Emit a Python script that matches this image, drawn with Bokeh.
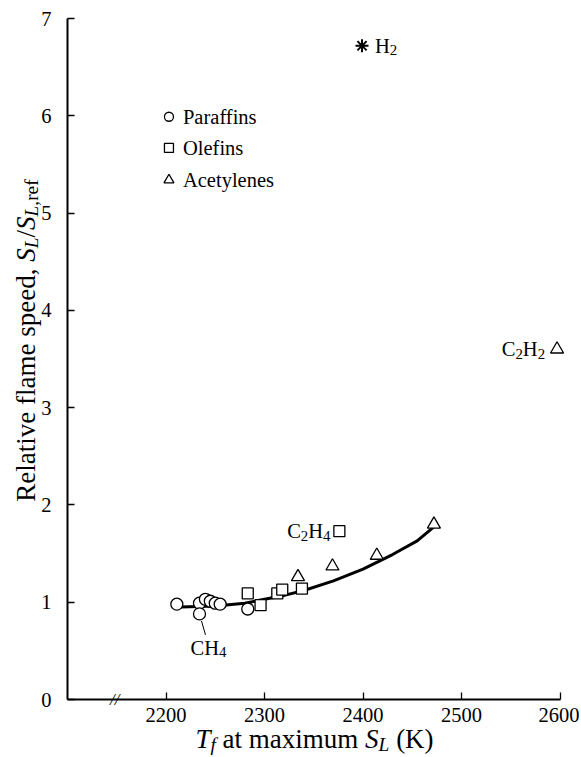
import math
from bokeh.plotting import figure
from bokeh.models import Label, Range1d, FixedTicker
from bokeh.embed import file_html
from bokeh.resources import INLINE

# ---------------- data ----------------
paraffin_T = [2211, 2234, 2240, 2245, 2250, 2255, 2234, 2283]
paraffin_S = [0.98, 0.99, 1.03, 1.01, 0.99, 0.98, 0.88, 0.93]
olefin_T = [2283, 2296, 2313, 2318, 2338, 2376]
olefin_S = [1.09, 0.97, 1.09, 1.13, 1.14, 1.73]
acetylene_T = [2334, 2369, 2414, 2472, 2597]
acetylene_S = [1.26, 1.37, 1.48, 1.80, 3.60]
hydrogen_T = [2399]
hydrogen_S = [6.72]
curve_T = [2215, 2250, 2280, 2300, 2320, 2340, 2370, 2400, 2430, 2455, 2475]
curve_S = [0.95, 0.96, 0.99, 1.03, 1.07, 1.12, 1.22, 1.34, 1.49, 1.63, 1.80]
x_ticks = [2200, 2300, 2400, 2500, 2600]
y_ticks = [0, 1, 2, 3, 4, 5, 6, 7]
legend_names = ["Paraffins", "Olefins", "Acetylenes"]
legend_markers = ["circle", "square", "triangle"]

FONT = "'Liberation Serif', 'Times New Roman', serif"
FS = 20.5      # tick labels, legend, annotations
FT = 27        # axis titles

REG = {' ': 250, '(': 333, ')': 333, ',': 250, '/': 278, 'A': 722, 'C': 667, 'H': 722,
       'K': 722, 'L': 611, 'R': 667, 'S': 556, 'T': 611, 'a': 444, 'c': 444, 'd': 500,
       'e': 444, 'f': 333, 'i': 278, 'l': 278, 'm': 778, 'n': 500, 'p': 500, 'r': 333,
       's': 389, 't': 278, 'u': 500, 'v': 500, 'x': 500, 'y': 500}
ITA = dict(REG, S=500, L=556, T=556, f=278)


def tw(s, size, italic=False):
    tab = ITA if italic else REG
    return sum(tab.get(c, 500) for c in s) / 1000.0 * size


def runs_label(p, runs, x, y, size, units="screen", angle=0.0, align="left",
               baseline="alphabetic", x_off=0.0, y_off=0.0):
    total = sum(tw(t, size * sc, it) for t, sc, it, dy in runs)
    cum = 0.0 if align == "left" else (-total if align == "right" else -total / 2.0)
    for t, sc, it, dy in runs:
        fs = size * sc
        lead = tw(" " * (len(t) - len(t.lstrip(" "))), fs, it)   # SVG drops leading blanks
        pos = cum + lead
        if angle == 0:
            ox, oy = x_off + pos, y_off - dy * size
        else:
            ox, oy = x_off + dy * size, y_off + pos
        p.add_layout(Label(x=x, y=y, x_units=units, y_units=units, x_offset=ox, y_offset=oy,
                           text=t.strip(" "), text_font=FONT, text_font_size=f"{fs:.1f}px",
                           text_font_style="italic" if it else "normal", angle=angle,
                           text_baseline=baseline, text_align="left", text_color="black"))
        cum += tw(t, fs, it)


SUB = 0.72
DY = 0.22

# canvas geometry: the frame fills the whole canvas, the axes are pinned inside it
W, H = 579, 755
AX_LEFT_PX, AX_BOTTOM_PX, TOP_PX = 67, 699, 18   # canvas px of x=2100, y=0, y=7
PXK = 0.985     # px per K
PXS = (AX_BOTTOM_PX - TOP_PX) / 7.0
x0 = 2100 - AX_LEFT_PX / PXK
x1 = 2100 + (W - AX_LEFT_PX) / PXK
y0 = -(H - AX_BOTTOM_PX) / PXS
y1 = 7 + TOP_PX / PXS

p = figure(width=W, height=H, output_backend="svg", toolbar_location=None,
           x_range=Range1d(x0, x1), y_range=Range1d(y0, y1), min_border=0)
p.outline_line_color = None
p.grid.visible = False
p.background_fill_color = "white"
p.border_fill_color = "white"

for ax in (p.xaxis[0], p.yaxis[0]):
    ax.axis_line_width = 2
    ax.axis_line_color = "black"
    ax.major_tick_in = 7
    ax.major_tick_out = 0
    ax.major_tick_line_width = 1.3
    ax.minor_tick_line_color = None
    ax.major_label_text_font = FONT
    ax.major_label_text_font_size = f"{FS}px"
    ax.major_label_text_color = "black"
p.xaxis[0].ticker = FixedTicker(ticks=x_ticks)
p.yaxis[0].ticker = FixedTicker(ticks=y_ticks)
p.xaxis[0].bounds = (2100, 2600)
p.yaxis[0].bounds = (0, 7)
p.xaxis[0].fixed_location = 0
p.yaxis[0].fixed_location = 2100
p.xaxis[0].major_label_standoff = 8
p.yaxis[0].major_label_standoff = 16

# axis break mark
p.add_layout(Label(x=2148, y=0, text="//", text_font=FONT, text_font_size="17px",
                   text_font_style="italic",
                   text_align="center", text_baseline="middle", text_color="black"))

# fitted curve
p.line(curve_T, curve_S, line_width=3, line_color="black")

# data markers
mk = dict(fill_color="white", line_color="black", line_width=1.3)
p.scatter(paraffin_T, paraffin_S, marker="circle", size=12, **mk)
p.scatter(olefin_T, olefin_S, marker="square", size=11, **mk)
p.scatter(acetylene_T, acetylene_S, marker="triangle", size=13, **mk)
p.scatter(hydrogen_T, hydrogen_S, marker="asterisk", size=13, line_color="black", line_width=2)

# legend (manual)
LEG_X = 2203
LEG_Y = [5.99, 5.67, 5.34]
for name, m, ly in zip(legend_names, legend_markers, LEG_Y):
    p.scatter([LEG_X], [ly], marker=m, size=9 if m != "triangle" else 10, **mk)
    p.add_layout(Label(x=LEG_X, y=ly, x_offset=14, text=name, text_font=FONT,
                       text_font_size=f"{FS}px", text_baseline="middle", text_color="black"))

# point annotations
runs_label(p, [("H", 1, False, 0), ("2", SUB, False, DY)], hydrogen_T[0], hydrogen_S[0], FS,
           units="data", baseline="middle", x_off=13)
runs_label(p, [("C", 1, False, 0), ("2", SUB, False, DY), ("H", 1, False, 0), ("2", SUB, False, DY)],
           acetylene_T[-1], acetylene_S[-1], FS, units="data", baseline="middle", align="right", x_off=-12)
runs_label(p, [("C", 1, False, 0), ("2", SUB, False, DY), ("H", 1, False, 0), ("4", SUB, False, DY)],
           olefin_T[-1], olefin_S[-1], FS, units="data", baseline="middle", align="right", x_off=-9)
ch4_T, ch4_S = paraffin_T[6], paraffin_S[6]
runs_label(p, [("C", 1, False, 0), ("H", 1, False, 0), ("4", SUB, False, DY)],
           ch4_T, ch4_S, FS, units="data", baseline="middle", x_off=-9, y_off=-34)
p.segment(x0=[ch4_T + 2 / PXK], y0=[ch4_S - 7 / PXS], x1=[ch4_T + 6 / PXK], y1=[ch4_S - 21 / PXS],
          line_color="black", line_width=1)

# axis titles (screen units = canvas px, y measured from the bottom)
runs_label(p, [("T", 1, True, 0), ("f", SUB, True, DY), (" at maximum ", 1, False, 0),
               ("S", 1, True, 0), ("L", SUB, True, DY), (" (K)", 1, False, 0)],
           314, H - 738, FT, align="center")
runs_label(p, [("Relative flame speed, ", 1, False, 0), ("S", 1, True, 0), ("L", SUB, True, DY),
               ("/", 1, False, 0), ("S", 1, True, 0), ("L", SUB, True, DY), (",ref", SUB, False, DY)],
           25, H - 340, FT, angle=math.pi / 2, align="center")

open("out.html", "w").write(file_html(p, INLINE))
